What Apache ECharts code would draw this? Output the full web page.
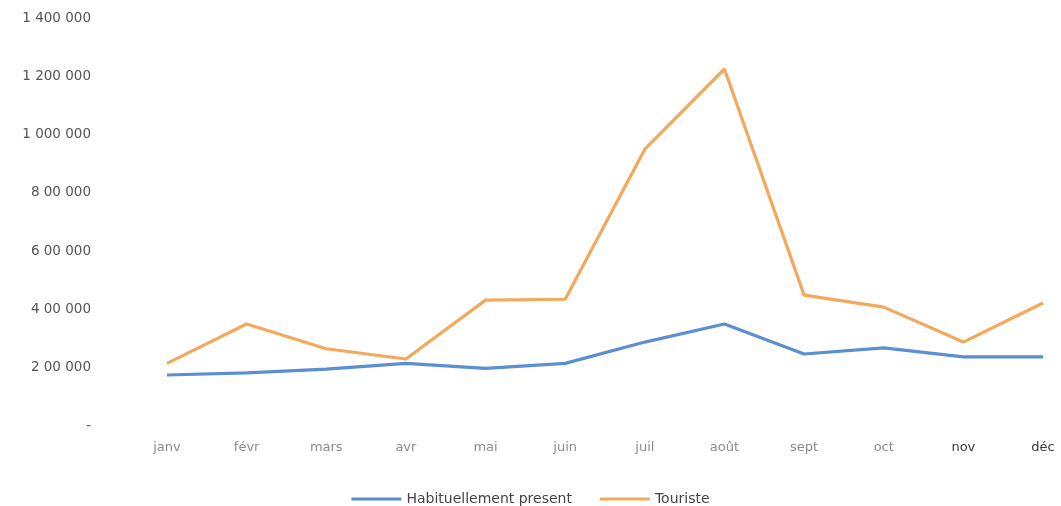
<!DOCTYPE html>
<html>
<head>
<meta charset="utf-8">
<script src="https://cdn.jsdelivr.net/npm/echarts@6/dist/echarts.min.js"></script>
<style>
html,body{margin:0;padding:0;background:#fff;}
#c{width:1061px;height:506px;}
</style>
</head>
<body>
<div id="c"></div>
<script>
var categories = ['janv','févr','mars','avr','mai','juin','juil','août','sept','oct','nov','déc'];
var habituellement = [175000,182000,195000,215000,198000,215000,288000,350000,247000,268000,237000,237000];
var touriste = [215000,350000,265000,230000,432000,435000,950000,1225000,449000,408000,288000,422000];
var yTickLabels = {0:'-',200000:'2 00 000',400000:'4 00 000',600000:'6 00 000',800000:'8 00 000',1000000:'1 000 000',1200000:'1 200 000',1400000:'1 400 000'};
var seriesNames = ['Habituellement present','Touriste'];
var darkLabels = ['nov','déc'];

var chart = echarts.init(document.getElementById('c'));
chart.setOption({
  animation:false,
  backgroundColor:'#ffffff',
  grid:{left:167,right:18,top:18,bottom:80,containLabel:false},
  xAxis:{
    type:'category',data:categories,boundaryGap:false,
    axisLine:{show:false},axisTick:{show:false},
    axisLabel:{interval:0,hideOverlap:false,margin:15,color:'#8c8c8c',fontFamily:'DejaVu Sans',fontSize:13,
      formatter:function(v){return darkLabels.indexOf(v)>=0?'{d|'+v+'}':'{g|'+v+'}';},
      rich:{d:{color:'#3a3a3a',fontFamily:'DejaVu Sans',fontSize:13},g:{color:'#8c8c8c',fontFamily:'DejaVu Sans',fontSize:13}}}
  },
  yAxis:{
    type:'value',min:0,max:1400000,interval:200000,
    splitLine:{show:false},axisLine:{show:false},axisTick:{show:false},
    axisLabel:{margin:76,color:'#555',fontFamily:'DejaVu Sans',fontSize:13.5,
      formatter:function(v){return yTickLabels[v]!==undefined?yTickLabels[v]:v;}}
  },
  legend:{
    top:487,left:'center',itemWidth:50,itemHeight:3,itemGap:28,
    icon:'rect',
    textStyle:{color:'#444',fontFamily:'DejaVu Sans',fontSize:14},
    data:seriesNames
  },
  series:[
    {name:seriesNames[0],type:'line',data:habituellement,symbol:'none',
     lineStyle:{color:'#5b8ed3',width:3.2},itemStyle:{color:'#5b8ed3'}},
    {name:seriesNames[1],type:'line',data:touriste,symbol:'none',
     lineStyle:{color:'#f3a95c',width:3.2},itemStyle:{color:'#f3a95c'}}
  ]
});
</script>
</body>
</html>
